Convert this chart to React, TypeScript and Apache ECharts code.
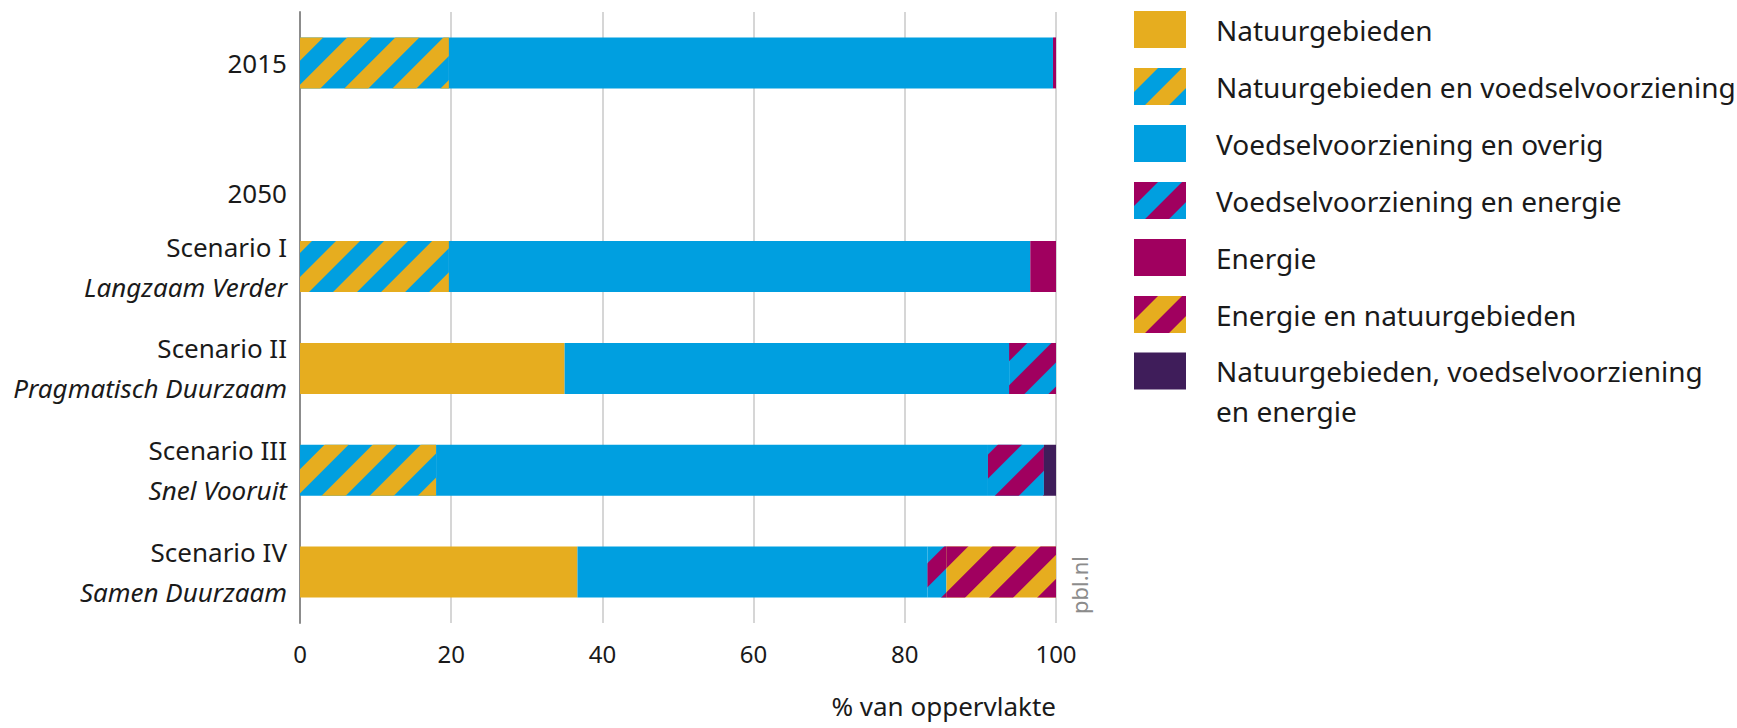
import React, { useEffect, useRef } from 'react';
import * as echarts from 'echarts';

const categories = ['2015', '2050', 'Scenario I', 'Scenario II', 'Scenario III', 'Scenario IV'];
const subtitles = ['', '', 'Langzaam Verder', 'Pragmatisch Duurzaam', 'Snel Vooruit', 'Samen Duurzaam'];

const seriesNames = [
  'Natuurgebieden',
  'Natuurgebieden en voedselvoorziening',
  'Voedselvoorziening en overig',
  'Voedselvoorziening en energie',
  'Energie',
  'Energie en natuurgebieden',
  'Natuurgebieden, voedselvoorziening en energie',
];

const natuur = [0, null, 0, 35, 0, 36.7];
const natuurVoedsel = [19.7, null, 19.7, 0, 18, 0];
const voedselOverig = [79.9, null, 76.9, 58.8, 73, 46.3];
const voedselEnergie = [0, null, 0, 6.2, 7.4, 2.5];
const energie = [0.4, null, 3.4, 0, 0, 0];
const energieNatuur = [0, null, 0, 0, 0, 14.5];
const alleDrie = [0, null, 0, 0, 1.6, 0];

const xMin = 0;
const xMax = 100;
const xInterval = 20;

const YELLOW = '#e6ad1f';
const BLUE = '#009fe0';
const MAGENTA = '#a0005f';
const PURPLE = '#3f1d5a';
const FONT = '"Noto Sans", sans-serif';
const TEXT = '#1a1a1a';

const stripe = (color: string) => ({
  symbol: 'rect',
  symbolSize: 1,
  color,
  dashArrayX: [1, 0],
  dashArrayY: [17, 17],
  rotation: -Math.PI / 4,
});

const seriesDefs = [
  { name: seriesNames[0], data: natuur, color: YELLOW },
  { name: seriesNames[1], data: natuurVoedsel, color: BLUE, decal: stripe(YELLOW) },
  { name: seriesNames[2], data: voedselOverig, color: BLUE },
  { name: seriesNames[3], data: voedselEnergie, color: BLUE, decal: stripe(MAGENTA) },
  { name: seriesNames[4], data: energie, color: MAGENTA },
  { name: seriesNames[5], data: energieNatuur, color: YELLOW, decal: stripe(MAGENTA) },
  { name: seriesNames[6], data: alleDrie, color: PURPLE },
];

export default function App() {
  const ref = useRef<HTMLDivElement>(null);
  useEffect(() => {
    if (!ref.current) return;
    const chart = echarts.init(ref.current, undefined, { renderer: 'svg' });
    const legendCommon = {
      orient: 'vertical',
      left: 1134,
      padding: 0,
      itemWidth: 52,
      itemHeight: 37,
      itemGap: 20,
      icon: 'rect',
      selectedMode: false,
    };
    chart.setOption({
      animation: false,
      backgroundColor: '#ffffff',
      textStyle: { fontFamily: FONT },
      grid: { left: 300, top: 12, width: 756, height: 611, containLabel: false },
      legend: [
        {
          ...legendCommon,
          top: 11,
          data: seriesNames.slice(0, 6),
          textStyle: { fontFamily: FONT, fontSize: 28, color: TEXT, lineHeight: 34, padding: [0, 0, 0, 25] },
        },
        {
          ...legendCommon,
          top: 317,
          data: [seriesNames[6]],
          formatter: () => '{p| }\n{t|Natuurgebieden, voedselvoorziening}\n{t|en energie}',
          textStyle: {
            fontFamily: FONT,
            fontSize: 28,
            color: TEXT,
            padding: [0, 0, 0, 25],
            rich: {
              p: { fontSize: 28, lineHeight: 40, fontFamily: FONT, color: TEXT },
              t: { fontSize: 28, lineHeight: 40, fontFamily: FONT, color: TEXT },
            },
          },
        },
      ],
      xAxis: {
        type: 'value',
        min: xMin,
        max: xMax,
        interval: xInterval,
        axisLine: { show: false },
        axisTick: { show: false },
        splitLine: { lineStyle: { color: '#d6d6d6', width: 2 } },
        axisLabel: { margin: 18, fontSize: 24, color: TEXT, fontFamily: FONT },
        name: '% van oppervlakte',
        nameLocation: 'end',
        nameGap: 0,
        nameTextStyle: {
          align: 'right',
          verticalAlign: 'top',
          padding: [70, 0, 0, 0],
          fontSize: 26,
          color: TEXT,
          fontFamily: FONT,
        },
      },
      yAxis: {
        type: 'category',
        data: categories,
        inverse: true,
        axisLine: { show: true, lineStyle: { color: '#8c8c8c', width: 2 } },
        axisTick: { show: false },
        splitLine: { show: false },
        axisLabel: {
          margin: 13,
          color: TEXT,
          fontFamily: FONT,
          formatter: (value: string, idx: number) => {
            const sub = subtitles[idx];
            if (value === '2050') return '{c| }\n{c|' + value + '}';
            if (!sub) return '{a|' + value + '}';
            return '{a|' + value + '}\n{b|' + sub + '}';
          },
          rich: {
            a: { fontSize: 26, lineHeight: 40, color: TEXT, fontFamily: FONT },
            b: { fontSize: 26, lineHeight: 40, color: TEXT, fontFamily: FONT, fontStyle: 'italic' },
            c: { fontSize: 26, lineHeight: 56, color: TEXT, fontFamily: FONT },
          },
        },
      },
      series: seriesDefs.map((s) => ({
        type: 'bar',
        name: s.name,
        stack: 'total',
        barWidth: 51,
        data: s.data,
        itemStyle: s.decal ? { color: s.color, decal: s.decal } : { color: s.color },
        emphasis: { disabled: true },
      })),
      graphic: [
        {
          type: 'text',
          x: 1079,
          y: 585,
          rotation: Math.PI / 2,
          style: {
            text: 'pbl.nl',
            fill: '#8c8c8c',
            fontSize: 22,
            fontFamily: FONT,
            align: 'center',
            verticalAlign: 'middle',
          },
        },
      ],
    });
    return () => chart.dispose();
  }, []);
  return (
    <div
      ref={ref}
      style={{ position: 'absolute', left: 0, top: 0, width: 1737, height: 728 }}
    />
  );
}
